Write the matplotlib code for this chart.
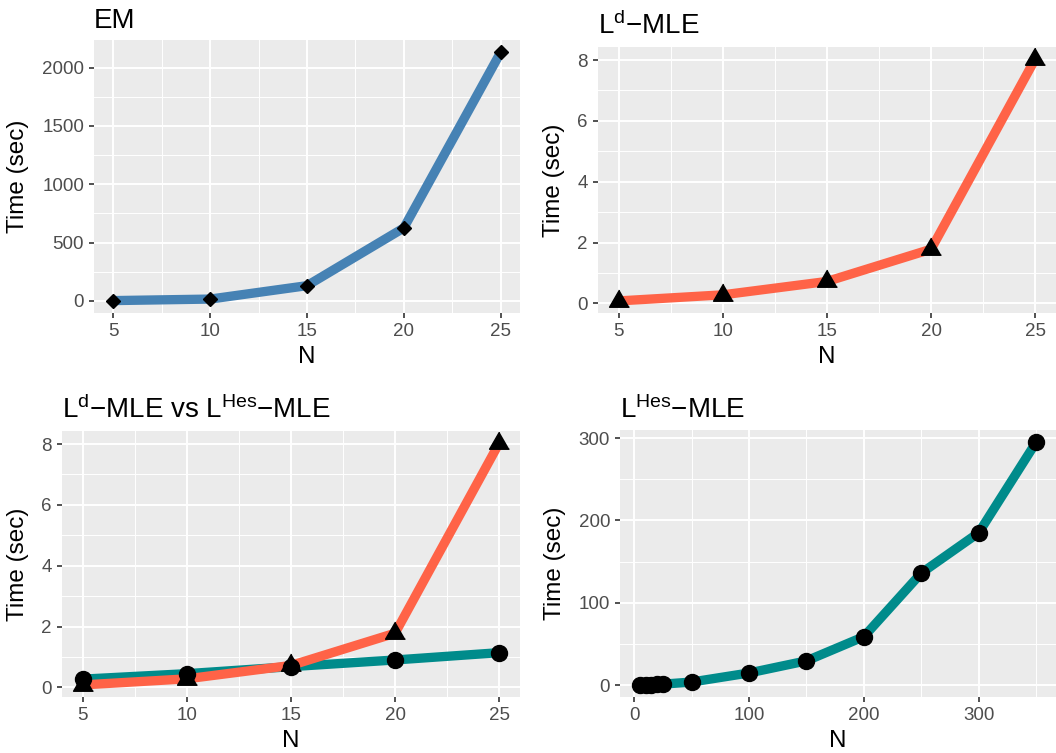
import matplotlib
matplotlib.use('Agg')
from matplotlib import pyplot as plt

plt.rcParams['font.family'] = ['Liberation Sans', 'DejaVu Sans']
plt.rcParams['mathtext.fontset'] = 'custom'
plt.rcParams['mathtext.rm'] = 'Liberation Sans'
plt.rcParams['mathtext.it'] = 'Liberation Sans'

# timings (seconds) per problem size N
n_small = [5, 10, 15, 20, 25]
em_time = [2, 15, 130, 625, 2130]
ld_time = [0.08, 0.28, 0.72, 1.78, 8.03]
hes_small = [0.27, 0.45, 0.68, 0.9, 1.14]

n_large = [5, 10, 15, 20, 25, 50, 100, 150, 200, 250, 300, 350]
hes_time = [0.27, 0.45, 0.68, 0.9, 1.14, 3.7, 14.7, 29.4, 58.8, 136, 185, 295]

BLUE = '#4682B4'
RED = '#FF6347'
TEAL = '#008B8B'

W, H = 1056, 753
fig = plt.figure(figsize=(W / 100, H / 100), dpi=100)


def panel(left, right, top, bottom):
    return fig.add_axes([left / W, 1 - bottom / H, (right - left) / W, (bottom - top) / H])


def expand(vals):
    lo, hi = min(vals), max(vals)
    pad = 0.05 * (hi - lo)
    return lo - pad, hi + pad


def style_ax(ax, xt, yt, xminor, yminor, title):
    ax.set_facecolor('#EBEBEB')
    for s in ax.spines.values():
        s.set_visible(False)
    ax.set_xticks(xt)
    ax.set_yticks(yt)
    ax.set_xticks(xminor, minor=True)
    ax.set_yticks(yminor, minor=True)
    ax.grid(which='major', color='white', linewidth=1.4)
    ax.grid(which='minor', color='white', linewidth=0.7)
    ax.set_axisbelow(True)
    ax.tick_params(which='major', length=3.6, width=1.2, color='#333333',
                   labelcolor='#4D4D4D', labelsize=13.5, pad=3.6)
    ax.tick_params(which='minor', length=0)
    ax.set_xlabel('N', fontsize=17.5, labelpad=4)
    ax.set_ylabel('Time (sec)', fontsize=17.5, labelpad=9)
    ax.set_title(title, loc='left', fontsize=20, pad=9)


tri = [(0, 0.577), (-0.5, -0.289), (0.5, -0.289)]
lw = 6.7

# EM
ax = panel(94, 520, 40, 313)
ax.plot(n_small, em_time, color=BLUE, lw=lw, solid_capstyle='butt', zorder=2)
ax.plot(n_small, em_time, 'D', color='black', ms=7, zorder=3)
ax.set_xlim(*expand(n_small))
ax.set_ylim(*expand(em_time))
style_ax(ax, n_small, [0, 500, 1000, 1500, 2000],
         [7.5, 12.5, 17.5, 22.5], [250, 750, 1250, 1750], 'EM')

# L^d-MLE
ax = panel(598, 1056, 47, 313)
ax.plot(n_small, ld_time, color=RED, lw=lw, solid_capstyle='butt', zorder=2)
ax.plot(n_small, ld_time, marker=tri, ls='none', color='black', ms=16.5, zorder=3)
ax.set_xlim(*expand(n_small))
ax.set_ylim(*expand(ld_time))
style_ax(ax, n_small, [0, 2, 4, 6, 8],
         [7.5, 12.5, 17.5, 22.5], [1, 3, 5, 7], r'$\mathregular{L^d}$' + '\u2212MLE')

# L^d-MLE vs L^Hes-MLE
ax = panel(62, 520, 431, 697)
ax.plot(n_small, hes_small, color=TEAL, lw=lw, solid_capstyle='butt', zorder=2)
ax.plot(n_small, ld_time, color=RED, lw=lw, solid_capstyle='butt', zorder=2)
ax.plot(n_small, hes_small, 'o', color='black', ms=11.5, zorder=3)
ax.plot(n_small, ld_time, marker=tri, ls='none', color='black', ms=16.5, zorder=3)
ax.set_xlim(*expand(n_small))
ax.set_ylim(*expand(ld_time + hes_small))
style_ax(ax, n_small, [0, 2, 4, 6, 8],
         [7.5, 12.5, 17.5, 22.5], [1, 3, 5, 7],
         r'$\mathregular{L^d}$' + '\u2212MLE vs ' + r'$\mathregular{L^{Hes}}$' + '\u2212MLE')

# L^Hes-MLE
ax = panel(620, 1056, 430, 697)
ax.plot(n_large, hes_time, color=TEAL, lw=lw, solid_capstyle='butt', zorder=2)
ax.plot(n_large, hes_time, 'o', color='black', ms=11.5, zorder=3)
ax.set_xlim(*expand(n_large))
ax.set_ylim(*expand(hes_time))
style_ax(ax, [0, 100, 200, 300], [0, 100, 200, 300],
         [50, 150, 250, 350], [50, 150, 250], r'$\mathregular{L^{Hes}}$' + '\u2212MLE')

fig.savefig('out.png', dpi=100)
